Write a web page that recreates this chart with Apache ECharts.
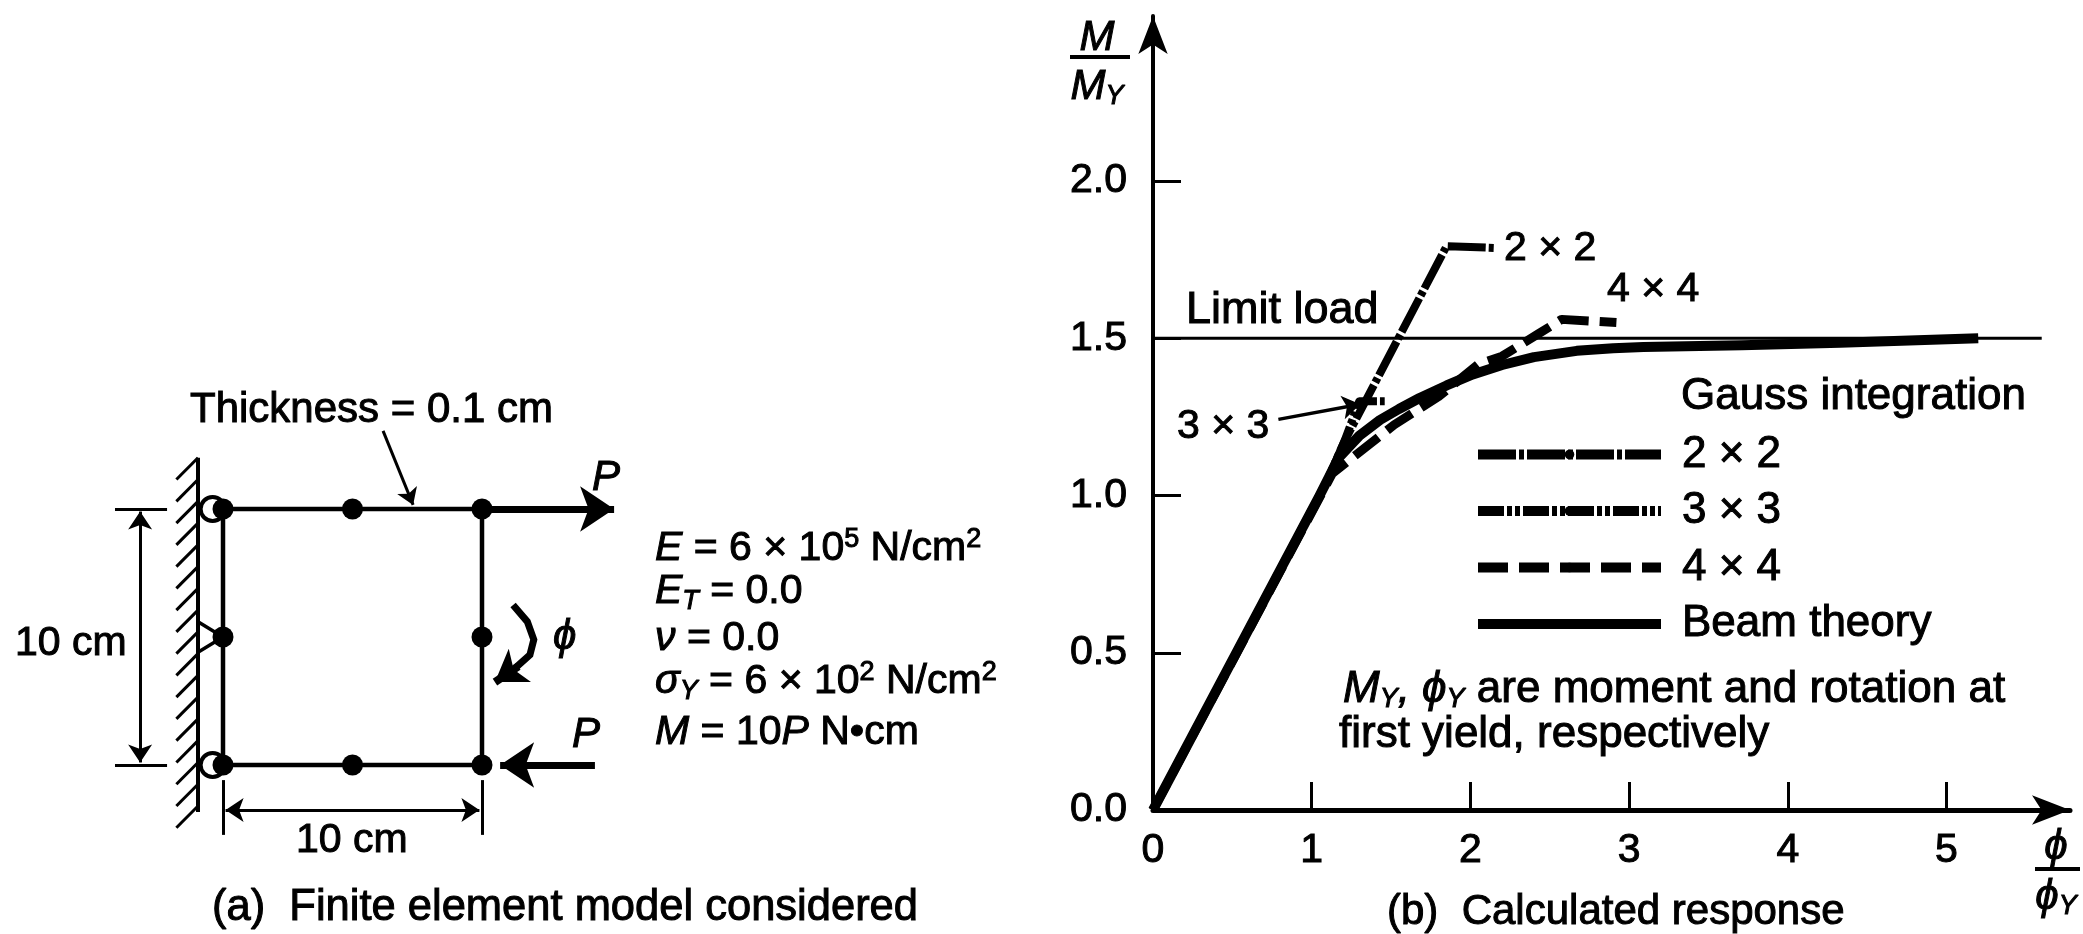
<!DOCTYPE html>
<html><head><meta charset="utf-8">
<style>html,body{margin:0;padding:0;background:#fff}#c{width:2083px;height:934px}</style>
<script src="https://cdn.jsdelivr.net/npm/echarts@6/dist/echarts.min.js"></script>
</head><body><div id="c"></div>
<script>
// ---- panel (b): calculated response
const xTicks = [0,1,2,3,4,5];
const yTicks = [0,0.5,1,1.5,2];
const beamTheory = [[0,0],[1.05,1.0],[1.11,1.06],[1.17,1.12],[1.3,1.19],[1.43,1.24],[1.55,1.275],[1.68,1.31],[1.85,1.35],[2.015,1.385],[2.2,1.415],[2.4,1.44],[2.67,1.46],[2.9,1.468],[3.09,1.472],[3.71,1.478],[4.33,1.486],[5.2,1.5]];
const gauss2x2 = [[0,0],[1.1,1.05],[1.206,1.172],[1.85,1.793],[2.16,1.787]];
const gauss3x3 = [[0,0],[1.1,1.05],[1.206,1.172],[1.3,1.30],[1.46,1.30]];
const gauss4x4 = [[0,0],[1.13,1.07],[1.52,1.225],[1.80,1.315],[2.05,1.417],[2.2,1.443],[2.425,1.513],[2.575,1.56],[2.92,1.55]];
const limitLoad = [[0,1.5],[5.6,1.5]];
const leader3x3 = [[0.79,1.242],[1.306,1.29]];
// ---- panel (a): finite element model, in cm
const nodes = [[0,0],[5,0],[10,0],[0,5],[10,5],[0,10],[5,10],[10,10]];
const boundary = [[0,0],[10,0],[10,10],[0,10],[0,0]];
const rollers = [[-0.4,0],[-0.4,10]];
const middleSupport = [[-0.965,5.6],[0,5],[-0.965,4.4]];
const wall = [[-0.965,-1.84],[-0.965,12]];
const hatchY = [12,11.15,10.3,9.45,8.6,7.75,6.9,6.05,5.2,4.35,3.5,2.65,1.8,0.95,0.1,-0.75,-1.6];
const forceTop = [[10,10],[15.1,10]];
const forceBottom = [[14.36,0],[10.7,0]];
const momentArc = [[11.2,6.25],[11.75,5.6],[12.0,4.9],[11.85,4.3],[11.3,3.8]];
const momentHead = [[11.4,3.85],[10.5,3.24]];
const thicknessLeader = [[6.18,13.05],[7.34,10.16]];
const dimV = [[-3.2,9.9],[-3.2,0.1]];
const dimH = [[0.1,-1.76],[9.9,-1.76]];
const extLines = [[[-4.17,10],[-2.16,10]],[[-4.17,0],[-2.16,0]],[[0,-0.59],[0,-2.73]],[[10,-0.59],[10,-2.73]]];
const legendNames = ['2 × 2','3 × 3','4 × 4','Beam theory'];

const FF = '"Liberation Sans", Arial, sans-serif', FS = 44, B = 1;
const base = {fontFamily:FF,fontSize:FS,fill:'#000',stroke:'#000',lineWidth:B};
const tok = (o)=>Object.assign({fontFamily:FF,fontSize:FS,fill:'#000',stroke:'#000',lineWidth:B},o);
function richFor(fs){return {
  i: tok({fontSize:fs,fontStyle:'italic'}),
  n: tok({fontSize:fs}),
  sup: tok({fontSize:27,verticalAlign:'top',lineHeight:46}),
  sub: tok({fontSize:27,verticalAlign:'bottom',lineHeight:46,fontStyle:'italic',padding:[12,0,0,0]})
};}
function T(x,y,text,fs){
  const f=fs||FS;
  return {type:'text',x:x,y:y,silent:true,style:Object.assign({},base,{fontSize:f,text:text,rich:richFor(f),align:'left',verticalAlign:'middle'})};
}
function C(x,y,text,fs){const t=T(x,y,text,fs);t.style.align='center';return t;}
const ln = (name,data,w,type,z,extra)=>Object.assign({name,type:'line',data,showSymbol:false,symbol:'none',smooth:false,clip:false,z:z||2,
  lineStyle:{color:'#000',width:w,type:type||'solid',cap:'butt',join:'round'},itemStyle:{color:'#000'},xAxisIndex:0,yAxisIndex:0,silent:true},extra||{});
const M = {xAxisIndex:1,yAxisIndex:1,silent:true,clip:false};
const seg = (coords,w,sym,size,poly)=>Object.assign({type:'lines',coordinateSystem:'cartesian2d',polyline:!!poly,data:[{coords}],
  lineStyle:{color:'#000',width:w,opacity:1,curveness:0},symbol:sym||['none','none'],symbolSize:size||10,effect:{show:false},z:3},M);

const option = {
  animation:false, backgroundColor:'#fff',
  grid:[
    {left:1153,top:16,width:917,height:794,containLabel:false},
    {left:15.8,top:406.6,width:647.5,height:460.8,containLabel:false}
  ],
  xAxis:[
    {type:'value',gridIndex:0,min:0,max:917/158.7,splitLine:{show:false},
     axisLine:{show:true,onZero:true,lineStyle:{color:'#000',width:5},symbol:['none','arrow'],symbolSize:[22,38]},
     axisTick:{show:true,inside:true,length:28,customValues:xTicks,lineStyle:{color:'#000',width:3}},
     axisLabel:{show:true,customValues:xTicks,margin:20,color:'#000',fontFamily:FF,fontSize:41,textBorderColor:'#000',textBorderWidth:B,hideOverlap:false}},
    {type:'value',gridIndex:1,min:-8,max:17,show:false}
  ],
  yAxis:[
    {type:'value',gridIndex:0,min:0,max:794/314.5,splitLine:{show:false},
     axisLine:{show:true,lineStyle:{color:'#000',width:4},symbol:['none','arrow'],symbolSize:[22,38]},
     axisTick:{show:true,inside:true,length:28,customValues:yTicks,lineStyle:{color:'#000',width:3}},
     axisLabel:{show:true,customValues:yTicks,margin:26,color:'#000',fontFamily:FF,fontSize:41,textBorderColor:'#000',textBorderWidth:B,hideOverlap:false,padding:[16,0,0,0],
       formatter:v=>v.toFixed(1)}},
    {type:'value',gridIndex:1,min:-4,max:14,show:false}
  ],
  legend:{show:true,data:legendNames,orient:'vertical',left:1473,top:432,padding:0,itemWidth:183,itemHeight:12,itemGap:11.5,
    selectedMode:false,
    lineStyle:{width:10},
    textStyle:{color:'#000',fontFamily:FF,fontSize:FS,lineHeight:42,padding:[0,0,0,16],textBorderColor:'#000',textBorderWidth:B}},
  series:[
    ln('Limit load',limitLoad,3,'solid',1),
    ln('2 × 2',gauss2x2,8,[38,3,5,3]),
    ln('3 × 3',gauss3x3,8,[26,3,5,3,5,3]),
    ln('4 × 4',gauss4x4,9,[30,11]),
    ln('Beam theory',beamTheory,10,'solid',4),
    {type:'lines',coordinateSystem:'cartesian2d',xAxisIndex:0,yAxisIndex:0,silent:true,data:[{coords:leader3x3}],
     lineStyle:{color:'#000',width:3.5,opacity:1},symbol:['none','arrow'],symbolSize:18,z:3},

    seg(wall,4),
    {type:'lines',coordinateSystem:'cartesian2d',xAxisIndex:1,yAxisIndex:1,silent:true,
     data:hatchY.map(y=>({coords:[[-0.965,y],[-1.8,y-0.85]]})),lineStyle:{color:'#000',width:3,opacity:1},z:3},
    Object.assign({type:'scatter',data:rollers,symbol:'circle',symbolSize:24,itemStyle:{color:'#fff',borderColor:'#000',borderWidth:4,opacity:1},z:2},M),
    Object.assign({type:'line',data:middleSupport,showSymbol:false,lineStyle:{color:'#000',width:3.5},z:2},M),
    Object.assign({type:'line',data:boundary,showSymbol:false,lineStyle:{color:'#000',width:4.5},z:3},M),
    Object.assign({type:'scatter',data:nodes,symbol:'circle',symbolSize:21,itemStyle:{color:'#000',opacity:1},z:5},M),
    seg(forceTop,7,['none','arrow'],34),
    seg(forceBottom,7,['none','arrow'],34),
    seg(momentArc,7,['none','none'],10,true),
    seg(momentHead,8,['none','arrow'],30),
    seg(thicknessLeader,3,['none','arrow'],16),
    seg(dimV,3,['arrow','arrow'],18),
    seg(dimH,3,['arrow','arrow'],18),
    {type:'lines',coordinateSystem:'cartesian2d',xAxisIndex:1,yAxisIndex:1,silent:true,
     data:extLines.map(c=>({coords:c})),lineStyle:{color:'#000',width:3,opacity:1},z:3}
  ],
  graphic:{elements:[
    // panel (b) text
    C(1097,38,'{i|M}',42),
    {type:'line',silent:true,shape:{x1:1070,y1:57,x2:1130,y2:57},style:{stroke:'#000',lineWidth:4}},
    C(1097,87,'{i|M}{sub|Y}',42),
    T(1186,311,'Limit load',45),
    T(1504,249,'2 × 2',41),
    T(1607,290,'4 × 4',41),
    T(1177,427,'3 × 3',41),
    T(1681,397,'Gauss integration'),
    T(1343,690,'{i|M}{sub|Y}{i|, ϕ}{sub|Y} are moment and rotation at'),
    T(1339,735,'first yield, respectively'),
    T(1387,912,'(b)  Calculated response',42),
    C(2056,847,'{i|ϕ}',42),
    {type:'line',silent:true,shape:{x1:2035,y1:869,x2:2080,y2:869},style:{stroke:'#000',lineWidth:4}},
    C(2056,897,'{i|ϕ}{sub|Y}',42),
    // panel (a) text
    T(190,410,'Thickness = 0.1 cm',42),
    T(592,478,'{i|P}',42),
    T(655,549,'{i|E} = 6 × 10{sup|5} N/cm{sup|2}',41),
    T(655,592,'{i|E}{sub|T} = 0.0',41),
    T(655,639,'{i|ν} = 0.0',41),
    T(655,682,'{i|σ}{sub|Y} = 6 × 10{sup|2} N/cm{sup|2}',41),
    T(655,733,'{i|M} = 10{i|P} N•cm',41),
    T(15,644,'10 cm',41),
    T(296,841,'10 cm',41),
    T(553,637,'{i|ϕ}',42),
    T(572,735,'{i|P}',42),
    T(212,908,'(a)  Finite element model considered',43.5)
  ]}
};
const chart = echarts.init(document.getElementById('c'),null,{renderer:'canvas',width:2083,height:934});
chart.setOption(option);
</script></body></html>
